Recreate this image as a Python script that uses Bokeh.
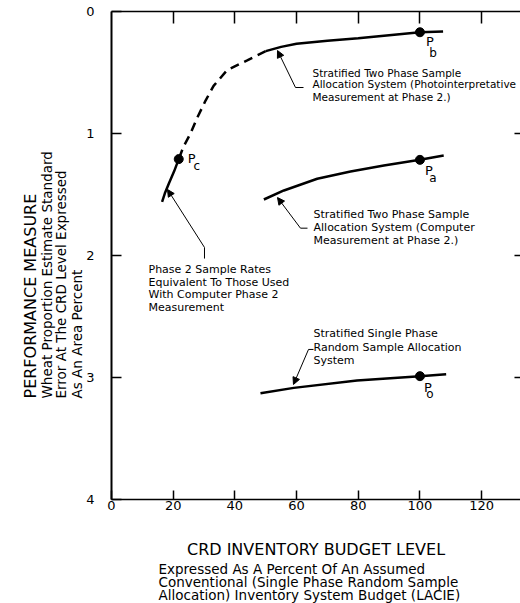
from bokeh.plotting import figure
from bokeh.models import Range1d, FixedTicker, LinearAxis, Title, Arrow, NormalHead
from bokeh.core.properties import value
from bokeh.embed import file_html
from bokeh.resources import INLINE

FONT = "DejaVu Sans"

# ---------------- data ----------------
x_ticks = [0, 20, 40, 60, 80, 100, 120]
y_ticks = [0, 1, 2, 3, 4]
right_ticks = [1, 2, 3]

# Stratified two phase, photointerpretative measurement (solid part)
pb_x = [50, 55, 60, 70, 80, 90, 100, 107.5]
pb_y = [0.325, 0.29, 0.265, 0.24, 0.22, 0.195, 0.17, 0.163]
# dashed continuation down to Pc
dash_x = [50, 47.2, 44, 37.5, 33.1, 30.5, 27.8, 25.6, 23.3, 21.8]
dash_y = [0.325, 0.36, 0.40, 0.48, 0.61, 0.73, 0.87, 1.0, 1.11, 1.21]
# solid part below Pc (phase 2 rates equivalent to computer)
pc_x = [21.8, 20.3, 18.6, 17.3, 16.4]
pc_y = [1.21, 1.31, 1.41, 1.49, 1.56]
# Stratified two phase, computer measurement
pa_x = [49.4, 55.9, 66.7, 77.5, 88.3, 100, 107.7]
pa_y = [1.541, 1.467, 1.371, 1.311, 1.262, 1.216, 1.18]
# Stratified single phase random sample
po_x = [48.3, 59.1, 79.6, 100, 108.5]
po_y = [3.129, 3.085, 3.025, 2.989, 2.973]

# marked points
pt_sub = ["b", "a", "c", "o"]
pt_x = [100, 100, 21.8, 100]
pt_y = [0.17, 1.216, 1.21, 2.989]

# annotation texts
ann_pb = ["Stratified Two Phase Sample",
          "Allocation System (Photointerpretative",
          "Measurement at Phase 2.)"]
ann_pa = ["Stratified Two Phase Sample",
          "Allocation System (Computer",
          "Measurement at Phase 2.)"]
ann_pc = ["Phase 2 Sample Rates",
          "Equivalent To Those Used",
          "With Computer Phase 2",
          "Measurement"]
ann_po = ["Stratified Single Phase",
          "Random Sample Allocation",
          "System"]

y_title = ["PERFORMANCE MEASURE",
           "Wheat Proportion Estimate Standard",
           "Error At The CRD Level Expressed",
           "As An Area Percent"]
x_title = ["CRD INVENTORY BUDGET LEVEL",
           "Expressed As A Percent Of An Assumed",
           "Conventional (Single Phase Random Sample",
           "Allocation) Inventory System Budget (LACIE)"]

# ---------------- layout / positions ----------------
P_LBL_DX = [10, 9, 13, 8]
P_LBL_DY = [9, 11, -1, 11]
S_LBL_DX = [13, 13, 18, 10]
S_LBL_DY = [21, 18, 7, 18]

p = figure(width=520, height=603, output_backend="svg", toolbar_location=None,
           x_range=Range1d(0, 132.6), y_range=Range1d(4, 0),
           min_border_left=111, min_border_right=0, min_border_top=11,
           min_border_bottom=104)
p.outline_line_color = None
p.grid.visible = False
p.background_fill_color = "white"
p.border_fill_color = "white"

# bottom axis
xa = p.xaxis[0]
xa.ticker = FixedTicker(ticks=x_ticks)
xa.major_tick_in = 9
xa.major_tick_out = 0
xa.minor_tick_line_color = None
xa.axis_line_width = 1.5
xa.major_tick_line_width = 1.5
xa.major_label_standoff = 1
xa.major_label_text_font = FONT
xa.major_label_text_font_size = "13px"
xa.major_label_text_color = "black"
xa.axis_line_color = "black"
xa.axis_label = x_title[0]
xa.axis_label_standoff = 27
xa.axis_label_text_font = FONT
xa.axis_label_text_font_size = "16px"
xa.axis_label_text_font_style = "normal"
xa.axis_label_text_color = "black"

# left axis
ya = p.yaxis[0]
ya.ticker = FixedTicker(ticks=y_ticks)
ya.major_tick_in = 10
ya.major_tick_out = 0
ya.minor_tick_line_color = None
ya.axis_line_width = 2
ya.major_tick_line_width = 1.5
ya.major_label_standoff = 17
ya.major_label_text_font = FONT
ya.major_label_text_font_size = "13px"
ya.major_label_text_color = "black"
ya.axis_line_color = "black"

# top axis (ticks only)
ta = LinearAxis(ticker=FixedTicker(ticks=x_ticks[1:]), major_tick_in=12, major_tick_out=0,
                minor_tick_line_color=None,
                major_label_overrides={t: "" for t in x_ticks[1:]},
                major_label_standoff=0, axis_line_width=1.5, major_tick_line_width=1.5)
p.add_layout(ta, "above")

# right ticks
p.segment(x0=[130.65] * len(right_ticks), x1=[132.6] * len(right_ticks),
          y0=right_ticks, y1=right_ticks, line_color="black", line_width=1.5)

# curves
p.line(pb_x, pb_y, line_color="black", line_width=2.5)
p.line(dash_x, dash_y, line_color="black", line_width=2.5, line_dash="9 6")
p.line(pc_x, pc_y, line_color="black", line_width=2.5)
p.line(pa_x, pa_y, line_color="black", line_width=2.5)
p.line(po_x, po_y, line_color="black", line_width=2.5)

p.scatter(pt_x, pt_y, size=9, color="black")

# point labels P_x
p.text(x=pt_x, y=pt_y, text=["P"] * len(pt_x), x_offset=P_LBL_DX, y_offset=P_LBL_DY,
       text_font=value(FONT), text_font_size="13px", text_align="center",
       text_baseline="middle", text_color="black")
p.text(x=pt_x, y=pt_y, text=pt_sub, x_offset=S_LBL_DX, y_offset=S_LBL_DY,
       text_font=value(FONT), text_font_size="12px", text_align="center",
       text_baseline="middle", text_color="black")

# annotation text blocks
def block(lines, x0, ys, fs="11px"):
    p.text(x=[x0] * len(lines), y=ys, text=lines, text_font=value(FONT),
           text_font_size=fs, text_align="left", text_baseline="middle",
           text_color="black")

block(ann_pb, 65.16, [0.500, 0.598, 0.697], "10.5px")
block(ann_pa, 65.49, [1.664, 1.770, 1.877])
block(ann_pc, 12.0, [2.115, 2.221, 2.320, 2.426])
block(ann_po, 65.49, [2.639, 2.754, 2.861])

# leader stubs and arrows
stubs = [([62.25, 59.65], [0.623, 0.623]),
         ([63.54, 61.27], [1.776, 1.776]),
         ([30.15, 30.15], [2.025, 1.934]),
         ([65.49, 63.87], [2.770, 2.770])]
tips = [(53.82, 0.32), (53.82, 1.525), (18.16, 1.459), (59.0, 3.057)]
for (sx, sy), (tx, ty) in zip(stubs, tips):
    p.line(sx, sy, line_color="black", line_width=1)
    p.add_layout(Arrow(end=NormalHead(size=7, fill_color="black", line_color="black"),
                       x_start=sx[-1], y_start=sy[-1], x_end=tx, y_end=ty,
                       line_color="black", line_width=1))

# y titles, stacked outward from the frame (closest first)
y_title_size = ["16px", "13.5px", "13.5px", "13.5px"]
y_title_standoff = [-1, -6, -2, -2]
for t, fs, so in list(zip(y_title, y_title_size, y_title_standoff))[::-1]:
    p.add_layout(Title(text=t, align="left", offset=101, standoff=so,
                       text_font=FONT, text_font_size=fs, text_font_style="normal",
                       text_color="black"), "left")

# remaining x title lines below the axis label
x_title_standoff = [-5, -5, -6]
for t, so in zip(x_title[1:], x_title_standoff):
    p.add_layout(Title(text=t, align="left", offset=47, standoff=so,
                       text_font=FONT, text_font_size="13.5px", text_font_style="normal",
                       text_color="black"), "below")

open("out.html", "w").write(file_html(p, INLINE))
